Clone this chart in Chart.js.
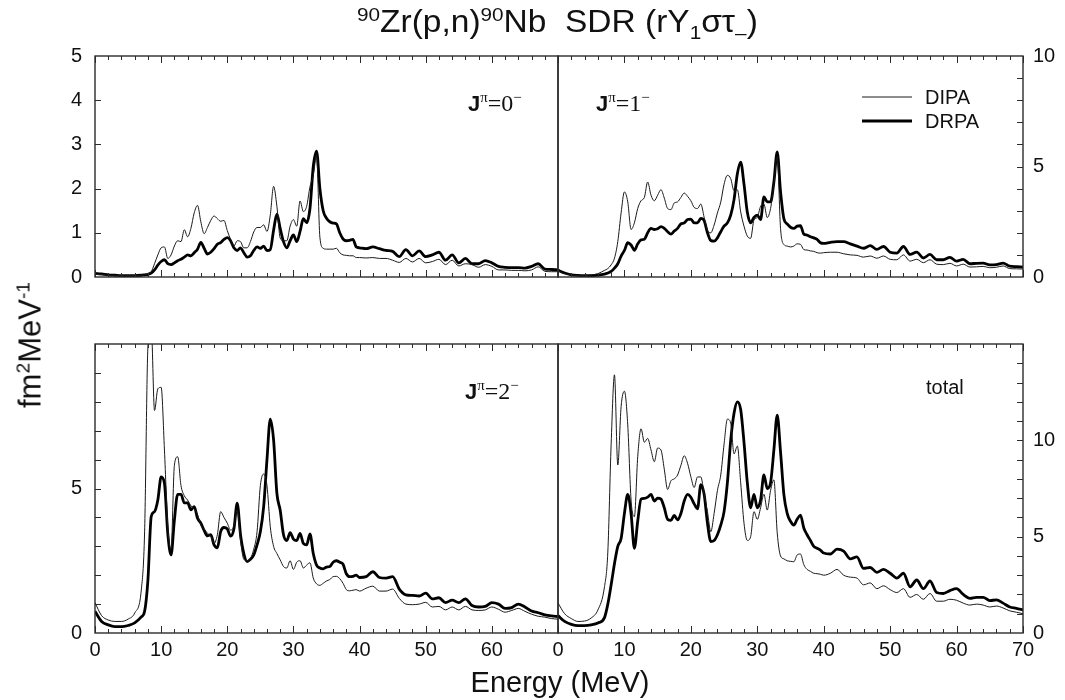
<!DOCTYPE html>
<html>
<head>
<meta charset="utf-8">
<script src="https://cdn.jsdelivr.net/npm/chart.js@4.4.1/dist/chart.umd.min.js"></script>
<style>
body { margin: 0; background: #fff; }
#wrap { position: relative; width: 1065px; height: 700px; overflow: hidden; background: #fff;
        font-family: "Liberation Sans", Arial, sans-serif; color: #111; }
#wrap canvas { position: absolute; left: 0; top: 0; }
.txt { position: absolute; white-space: nowrap; line-height: 1; }
.txt sup, .txt sub { font-size: 62%; line-height: 0; }
.jl { font-family: "Liberation Serif", serif; font-size: 24px; }
.jl b { font-family: "Liberation Sans", sans-serif; font-size: 22px; }
</style>
</head>
<body>
<div id="wrap">
  <canvas id="cTL" width="1065" height="700"></canvas>
  <canvas id="cTR" width="1065" height="700"></canvas>
  <canvas id="cBL" width="1065" height="700"></canvas>
  <canvas id="cBR" width="1065" height="700"></canvas>

  <div class="txt" style="left:357px;top:6px;font-size:31px;transform:scaleX(1.08);transform-origin:left top;"><sup>90</sup>Zr(p,n)<sup>90</sup>Nb&nbsp;&nbsp;SDR (rY<sub>1</sub>στ<sub>–</sub>)</div>
  <div class="txt" style="left:410px;width:300px;text-align:center;top:668px;font-size:29px;">Energy (MeV)</div>
  <div class="txt" style="left:30px;top:345px;font-size:31px;transform:translate(-50%,-50%) rotate(-90deg);">fm<sup>2</sup>MeV<sup>-1</sup></div>

  <div class="txt jl" style="left:468px;top:91px;"><b>J</b><sup>π</sup>=0<sup>−</sup></div>
  <div class="txt jl" style="left:596px;top:91px;"><b>J</b><sup>π</sup>=1<sup>−</sup></div>
  <div class="txt jl" style="left:465px;top:379px;"><b>J</b><sup>π</sup>=2<sup>−</sup></div>
  <div class="txt" style="left:926px;top:377px;font-size:20px;">total</div>
</div>

<script>
// energy grid (MeV)
const energy = [0,1,2,3,4,5,6,7,
  7.5,8,8.5,9,9.5,10,10.5,11,11.5,12,
  12.5,13,13.5,14,14.5,15,15.5,16,16.5,17,
  17.5,18,18.5,19,19.5,20,20.5,21,21.5,22,
  22.5,23,23.5,24,24.5,25,25.5,26,26.5,27,
  27.5,28,28.5,29,29.5,30,30.5,31,31.5,32,
  32.5,33,33.5,34,34.5,35,35.5,36,36.5,37,
  37.5,38,38.5,39,39.5,40,
  41,42,43,44,45,46,47,48,49,50,
  51,52,53,54,55,56,57,58,59,60,
  61,62,63,64,65,66,67,68,69,70];

// J=0- (left scale 0-5)
const dipa0 = [0.06,0.05,0.04,0.03,0.03,0.03,0.03,0.04,
  0.05,0.07,0.12,0.30,0.50,0.66,0.68,0.42,0.50,0.70,
  0.82,0.80,1.07,0.91,1.10,1.45,1.62,1.25,0.98,1.12,
  1.28,1.38,1.32,1.26,1.28,1.05,0.85,0.70,0.82,0.80,
  0.66,0.66,0.80,1.02,1.12,1.12,1.18,1.03,1.40,2.05,
  1.60,0.88,0.82,0.82,1.15,1.30,1.15,1.72,1.48,1.60,
  2.04,2.30,2.75,0.90,0.65,0.63,0.63,0.63,0.65,0.55,
  0.50,0.49,0.48,0.48,0.44,0.44,
  0.43,0.44,0.42,0.42,0.38,0.33,0.42,0.34,0.42,0.32,
  0.35,0.40,0.28,0.38,0.25,0.30,0.28,0.22,0.28,0.24,
  0.16,0.16,0.15,0.15,0.14,0.16,0.23,0.13,0.12,0.12];
const drpa0 = [0.08,0.07,0.05,0.04,0.03,0.03,0.03,0.04,
  0.05,0.06,0.09,0.16,0.27,0.35,0.39,0.30,0.28,0.32,
  0.37,0.40,0.45,0.50,0.48,0.55,0.63,0.78,0.65,0.52,
  0.56,0.64,0.74,0.78,0.85,0.89,0.82,0.66,0.60,0.66,
  0.55,0.45,0.48,0.60,0.68,0.65,0.70,0.60,0.62,1.06,
  1.42,1.10,0.80,0.66,0.82,0.95,0.80,1.03,1.32,1.23,
  1.55,2.50,2.85,2.00,1.50,1.33,1.25,1.22,1.20,1.00,
  0.86,0.82,0.83,0.85,0.68,0.66,
  0.64,0.68,0.64,0.60,0.58,0.46,0.62,0.48,0.59,0.46,
  0.50,0.56,0.38,0.50,0.32,0.42,0.30,0.30,0.37,0.32,
  0.24,0.22,0.21,0.21,0.20,0.24,0.30,0.18,0.17,0.16];

// J=1- (right scale 0-10)
const dipa1 = [0.28,0.15,0.09,0.07,0.07,0.09,0.15,0.30,
  0.38,0.55,0.85,1.60,2.90,3.85,3.40,2.15,2.45,3.10,
  3.45,3.60,4.30,3.70,3.45,3.70,3.95,3.57,3.10,3.05,
  3.35,3.40,3.60,3.80,3.65,3.45,3.15,3.10,3.30,2.70,
  2.11,2.00,2.35,2.90,3.39,4.20,4.60,4.45,3.90,3.95,
  2.95,2.30,1.85,1.75,2.58,2.70,3.20,3.30,2.69,3.10,
  4.20,5.45,2.20,1.47,1.40,1.36,1.40,1.50,1.48,1.24,
  1.22,1.18,1.16,1.10,1.08,1.10,
  1.12,1.12,1.05,1.00,0.98,0.90,0.95,0.85,0.95,0.80,
  0.78,1.00,0.72,0.80,0.65,0.78,0.58,0.56,0.62,0.50,
  0.58,0.45,0.46,0.48,0.42,0.44,0.50,0.38,0.37,0.36];
const drpa1 = [0.31,0.18,0.10,0.07,0.06,0.06,0.08,0.13,
  0.18,0.25,0.40,0.60,0.95,1.20,1.55,1.45,1.21,1.50,
  1.68,1.71,2.00,2.20,2.15,2.18,2.28,2.20,2.05,1.94,
  2.08,2.20,2.40,2.45,2.60,2.62,2.45,2.45,2.65,2.55,
  2.00,1.65,1.62,1.77,2.05,2.30,2.45,2.80,3.50,4.67,
  5.20,4.20,2.93,2.45,2.70,2.80,2.60,3.62,3.40,3.40,
  4.30,5.66,3.86,2.64,2.40,2.25,2.20,2.30,2.32,1.94,
  1.90,1.82,1.77,1.70,1.55,1.52,
  1.57,1.60,1.60,1.50,1.40,1.30,1.42,1.25,1.38,1.12,
  1.08,1.38,1.02,1.13,0.86,1.02,0.78,0.78,0.89,0.72,
  0.80,0.60,0.62,0.63,0.55,0.56,0.63,0.49,0.47,0.45];

// J=2- (left scale 0-10)
const dipa2 = [1.05,0.60,0.45,0.40,0.40,0.48,0.69,1.49,
  3.50,9.90,10.60,7.70,8.45,8.50,6.33,3.70,2.90,5.80,
  6.10,5.10,4.75,4.60,4.40,4.30,4.10,3.74,3.60,3.45,
  3.35,3.10,3.40,4.20,4.00,3.80,3.56,3.70,4.26,3.20,
  2.55,2.50,2.58,2.90,3.50,5.10,5.50,5.10,3.68,3.00,
  2.75,2.53,2.30,2.25,2.50,2.20,2.45,2.50,2.25,2.35,
  2.43,1.90,1.70,1.65,1.72,1.80,1.85,1.95,1.96,1.88,
  1.72,1.50,1.46,1.48,1.50,1.45,
  1.55,1.62,1.45,1.45,1.52,1.20,1.00,0.98,1.00,1.06,
  0.90,0.92,0.80,0.90,0.80,0.92,0.80,0.78,0.80,0.90,
  0.82,0.72,0.78,0.85,0.75,0.65,0.58,0.55,0.50,0.48];
const drpa2 = [0.75,0.40,0.28,0.22,0.22,0.26,0.35,0.56,
  0.75,1.83,4.03,4.20,4.60,5.40,5.18,3.45,2.70,3.90,
  4.80,4.80,4.50,4.50,4.26,4.37,3.97,3.80,3.55,3.36,
  3.40,3.05,2.95,3.51,3.65,3.60,3.35,3.60,4.49,3.40,
  2.75,2.47,2.55,2.70,3.05,3.50,4.37,6.00,7.40,6.68,
  4.83,4.25,3.40,3.20,3.47,3.25,3.20,3.45,3.10,3.05,
  3.43,2.75,2.35,2.25,2.22,2.28,2.30,2.45,2.50,2.45,
  2.38,2.05,1.95,1.96,2.00,1.92,
  1.95,2.12,1.92,1.90,1.95,1.52,1.32,1.30,1.28,1.38,
  1.18,1.22,1.05,1.14,1.05,1.18,0.95,0.90,0.92,1.05,
  1.00,0.85,0.88,1.00,0.90,0.76,0.70,0.63,0.59,0.57];

// total (right scale 0-15)
const dipaT = [1.56,1.00,0.75,0.60,0.62,0.78,1.19,2.40,
  4.20,9.80,13.40,8.72,11.75,12.55,10.80,6.90,6.04,9.15,
  10.60,9.90,10.10,9.50,8.89,9.60,9.50,8.50,7.45,7.90,
  8.00,8.20,8.70,9.20,8.81,8.11,7.55,8.10,8.10,7.20,
  6.30,5.26,6.20,7.40,8.20,9.80,11.10,10.90,9.30,9.70,
  7.80,5.70,4.80,5.00,6.30,5.90,6.50,7.20,6.38,7.40,
  7.95,5.20,4.00,3.85,3.75,3.72,3.70,4.05,4.10,3.55,
  3.30,3.20,3.10,3.08,3.05,3.00,
  3.10,3.30,3.00,2.90,2.85,2.50,2.60,2.30,2.45,2.25,
  2.10,2.30,1.85,2.00,1.75,2.05,1.65,1.65,1.75,1.70,
  1.55,1.45,1.50,1.45,1.35,1.40,1.30,1.15,1.08,1.00];
const drpaT = [0.90,0.60,0.45,0.38,0.38,0.42,0.52,0.80,
  1.50,2.50,3.60,4.50,4.90,6.21,7.20,6.20,4.40,5.80,
  6.95,6.99,7.05,7.20,6.85,7.00,6.95,6.50,5.90,5.85,
  6.10,5.87,6.20,6.85,7.20,7.05,6.70,6.45,7.70,7.20,
  5.70,4.75,4.80,5.10,5.60,6.30,7.80,10.00,11.40,12.00,
  11.60,9.90,7.80,6.50,7.20,6.50,6.90,8.20,7.50,7.80,
  9.50,11.31,9.40,7.20,6.21,5.80,5.60,5.90,6.12,5.45,
  5.10,4.80,4.50,4.40,4.30,4.15,
  4.10,4.35,4.25,3.85,3.95,3.35,3.40,3.15,3.30,3.10,
  2.85,3.10,2.40,2.75,2.30,2.70,2.10,2.05,2.20,2.30,
  2.00,1.80,1.85,1.85,1.68,1.72,1.55,1.35,1.28,1.20];

// tick labels
const xLabelsLeft = [0,10,20,30,40,50,60];
const xLabelsRight = [0,10,20,30,40,50,60,70];
const yLabelsTL = [0,1,2,3,4,5];
const yLabelsTR = [0,5,10];
const yLabelsBL = [0,5];
const yLabelsBR = [0,5,10];

const tickFont = { family: '"Liberation Sans", sans-serif', size: 20 };

// frame + inward tick marks
const framePlugin = {
  id: 'frame',
  afterDatasetsDraw(chart, args, opts) {
    const { ctx, chartArea: a } = chart;
    const xs = chart.scales.x, ys = chart.scales.y;
    ctx.save();
    ctx.strokeStyle = '#2b2b2b';
    ctx.lineWidth = 1.4;
    ctx.strokeRect(a.left, a.top, a.right - a.left, a.bottom - a.top);
    ctx.lineWidth = 1;
    ctx.beginPath();
    for (let v = 0; v <= 70; v += 2) {
      const px = Math.round(xs.getPixelForValue(v)) + 0.5;
      const len = v % 10 === 0 ? 7 : 4;
      ctx.moveTo(px, a.top); ctx.lineTo(px, a.top + len);
      ctx.moveTo(px, a.bottom); ctx.lineTo(px, a.bottom - len);
    }
    for (let v = opts.yStep; v < ys.max; v += opts.yStep) {
      const py = Math.round(ys.getPixelForValue(v)) + 0.5;
      if (opts.side === 'left') { ctx.moveTo(a.left, py); ctx.lineTo(a.left + 6, py); }
      else { ctx.moveTo(a.right, py); ctx.lineTo(a.right - 6, py); }
    }
    ctx.stroke();
    ctx.restore();
  }
};

// legend drawn inside the J=1- panel
const insetLegend = {
  id: 'insetLegend',
  afterDatasetsDraw(chart, args, opts) {
    if (!opts.show) return;
    const ctx = chart.ctx;
    chart.data.datasets.forEach((ds, i) => {
      const y = opts.y + i * opts.gap;
      ctx.save();
      ctx.strokeStyle = ds.borderColor;
      ctx.lineWidth = ds.borderWidth;
      ctx.beginPath();
      ctx.moveTo(opts.x, y);
      ctx.lineTo(opts.x + opts.len, y);
      ctx.stroke();
      ctx.fillStyle = '#111';
      ctx.font = '20px "Liberation Sans", sans-serif';
      ctx.textBaseline = 'middle';
      ctx.fillText(ds.label, opts.x + opts.len + 13, y + 1);
      ctx.restore();
    });
  }
};

function pts(vals) {
  return energy.map((e, i) => ({ x: e, y: vals[i] }));
}

function panel(id, p) {
  return new Chart(document.getElementById(id), {
    type: 'line',
    data: {
      datasets: [
        { label: 'DIPA', data: pts(p.thin), borderColor: '#1a1a1a', borderWidth: 1,
          pointRadius: 0, cubicInterpolationMode: 'monotone' },
        { label: 'DRPA', data: pts(p.thick), borderColor: '#000', borderWidth: 2.8,
          pointRadius: 0, cubicInterpolationMode: 'monotone' }
      ]
    },
    options: {
      responsive: false,
      animation: false,
      devicePixelRatio: 1,
      layout: { padding: p.pad },
      plugins: {
        legend: { display: false },
        tooltip: { enabled: false },
        frame: { yStep: 1, side: p.side },
        insetLegend: p.legend || { show: false }
      },
      scales: {
        x: {
          type: 'linear', min: 0, max: 70,
          display: !!p.xLabels,
          grid: { display: false, drawTicks: false },
          border: { display: false },
          ticks: { font: tickFont, color: '#111', padding: 5, maxRotation: 0 },
          afterBuildTicks: s => { if (p.xLabels) s.ticks = p.xLabels.map(v => ({ value: v })); },
          afterFit: s => { s.height = 67; }
        },
        y: {
          type: 'linear', position: p.side, min: 0, max: p.yMax,
          grid: { display: false, drawTicks: false },
          border: { display: false },
          ticks: { font: tickFont, color: '#111', padding: p.side === 'left' ? 13 : 10 },
          afterBuildTicks: s => { s.ticks = p.yLabels.map(v => ({ value: v })); },
          afterFit: s => { s.width = p.side === 'left' ? 95 : 42; }
        }
      }
    },
    plugins: [framePlugin, insetLegend]
  });
}

panel('cTL', { thin: dipa0, thick: drpa0, side: 'left', yMax: 5, yLabels: yLabelsTL,
  pad: { left: 0, right: 507, top: 56, bottom: 356 } });
panel('cTR', { thin: dipa1, thick: drpa1, side: 'right', yMax: 10, yLabels: yLabelsTR,
  pad: { left: 558, right: 0, top: 56, bottom: 356 },
  legend: { show: true, x: 862, y: 97, gap: 24, len: 50 } });
panel('cBL', { thin: dipa2, thick: drpa2, side: 'left', yMax: 10, yLabels: yLabelsBL,
  xLabels: xLabelsLeft, pad: { left: 0, right: 507, top: 344, bottom: 0 } });
panel('cBR', { thin: dipaT, thick: drpaT, side: 'right', yMax: 15, yLabels: yLabelsBR,
  xLabels: xLabelsRight, pad: { left: 558, right: 0, top: 344, bottom: 0 } });
</script>
</body>
</html>
